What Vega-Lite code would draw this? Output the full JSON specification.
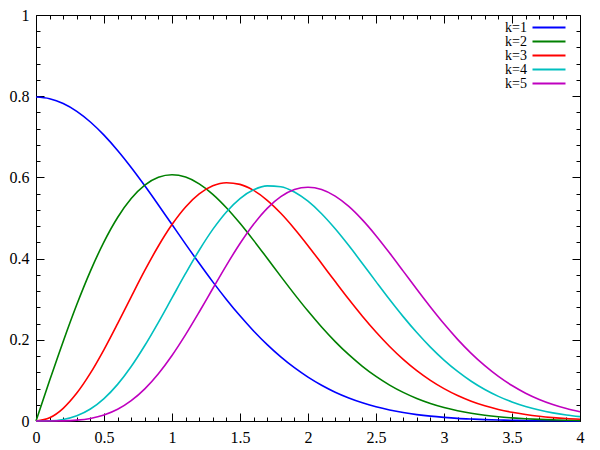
{
  "$schema": "https://vega.github.io/schema/vega-lite/v6.json",
  "width": 544,
  "height": 406,
  "autosize": {"type": "none"},
  "padding": {"left": 36, "top": 15, "right": 20, "bottom": 29},
  "background": "white",
  "config": {
    "view": {"stroke": "black", "strokeWidth": 1},
    "font": "Liberation Serif",
    "axis": {
      "labelFont": "Liberation Serif",
      "labelFontSize": 16,
      "labelColor": "black",
      "tickColor": "black",
      "tickWidth": 1,
      "domain": false,
      "grid": false,
      "title": null,
      "labelOverlap": false,
      "labelFlush": false
    }
  },
  "data": {
    "values": [
      {"x": 0.0, "k1": 0.7979, "k2": 0.0, "k3": 0.0, "k4": 0.0, "k5": 0.0},
      {"x": 0.1, "k1": 0.7939, "k2": 0.0995, "k3": 0.0079, "k4": 0.0005, "k5": 0.0000},
      {"x": 0.2, "k1": 0.7821, "k2": 0.1960, "k3": 0.0313, "k4": 0.0039, "k5": 0.0004},
      {"x": 0.3, "k1": 0.7628, "k2": 0.2868, "k3": 0.0687, "k4": 0.0129, "k5": 0.0021},
      {"x": 0.4, "k1": 0.7365, "k2": 0.3692, "k3": 0.1178, "k4": 0.0295, "k5": 0.0063},
      {"x": 0.5, "k1": 0.7041, "k2": 0.4412, "k3": 0.1760, "k4": 0.0552, "k5": 0.0147},
      {"x": 0.6, "k1": 0.6664, "k2": 0.5012, "k3": 0.2399, "k4": 0.0902, "k5": 0.0288},
      {"x": 0.7, "k1": 0.6245, "k2": 0.5479, "k3": 0.3060, "k4": 0.1342, "k5": 0.0500},
      {"x": 0.8, "k1": 0.5794, "k2": 0.5809, "k3": 0.3708, "k4": 0.1859, "k5": 0.0791},
      {"x": 0.9, "k1": 0.5322, "k2": 0.6003, "k3": 0.4311, "k4": 0.2431, "k5": 0.1164},
      {"x": 1.0, "k1": 0.4839, "k2": 0.6065, "k3": 0.4839, "k4": 0.3033, "k5": 0.1613},
      {"x": 1.1, "k1": 0.4357, "k2": 0.6007, "k3": 0.5272, "k4": 0.3634, "k5": 0.2126},
      {"x": 1.2, "k1": 0.3884, "k2": 0.5841, "k3": 0.5593, "k4": 0.4206, "k5": 0.2684},
      {"x": 1.3, "k1": 0.3427, "k2": 0.5584, "k3": 0.5792, "k4": 0.4719, "k5": 0.3263},
      {"x": 1.4, "k1": 0.2995, "k2": 0.5254, "k3": 0.5869, "k4": 0.5149, "k5": 0.3835},
      {"x": 1.5, "k1": 0.2590, "k2": 0.4870, "k3": 0.5828, "k4": 0.5479, "k5": 0.4371},
      {"x": 1.6, "k1": 0.2218, "k2": 0.4449, "k3": 0.5679, "k4": 0.5694, "k5": 0.4846},
      {"x": 1.7, "k1": 0.1881, "k2": 0.4008, "k3": 0.5436, "k4": 0.5791, "k5": 0.5237},
      {"x": 1.8, "k1": 0.1579, "k2": 0.3562, "k3": 0.5116, "k4": 0.5771, "k5": 0.5525},
      {"x": 1.9, "k1": 0.1312, "k2": 0.3125, "k3": 0.4737, "k4": 0.5641, "k5": 0.5701},
      {"x": 2.0, "k1": 0.1080, "k2": 0.2707, "k3": 0.4319, "k4": 0.5413, "k5": 0.5759},
      {"x": 2.1, "k1": 0.0880, "k2": 0.2315, "k3": 0.3879, "k4": 0.5105, "k5": 0.5703},
      {"x": 2.2, "k1": 0.0709, "k2": 0.1956, "k3": 0.3434, "k4": 0.4734, "k5": 0.5540},
      {"x": 2.3, "k1": 0.0567, "k2": 0.1633, "k3": 0.2997, "k4": 0.4320, "k5": 0.5285},
      {"x": 2.4, "k1": 0.0448, "k2": 0.1347, "k3": 0.2580, "k4": 0.3880, "k5": 0.4953},
      {"x": 2.5, "k1": 0.0351, "k2": 0.1098, "k3": 0.2191, "k4": 0.3433, "k5": 0.4565},
      {"x": 2.6, "k1": 0.0272, "k2": 0.0885, "k3": 0.1836, "k4": 0.2992, "k5": 0.4138},
      {"x": 2.7, "k1": 0.0208, "k2": 0.0705, "k3": 0.1519, "k4": 0.2571, "k5": 0.3692},
      {"x": 2.8, "k1": 0.0158, "k2": 0.0556, "k3": 0.1241, "k4": 0.2178, "k5": 0.3243},
      {"x": 2.9, "k1": 0.0119, "k2": 0.0433, "k3": 0.1001, "k4": 0.1820, "k5": 0.2807},
      {"x": 3.0, "k1": 0.0089, "k2": 0.0333, "k3": 0.0798, "k4": 0.1500, "k5": 0.2393},
      {"x": 3.1, "k1": 0.0065, "k2": 0.0254, "k3": 0.0628, "k4": 0.1220, "k5": 0.2011},
      {"x": 3.2, "k1": 0.0048, "k2": 0.0191, "k3": 0.0488, "k4": 0.0979, "k5": 0.1666},
      {"x": 3.3, "k1": 0.0034, "k2": 0.0142, "k3": 0.0375, "k4": 0.0776, "k5": 0.1362},
      {"x": 3.4, "k1": 0.0025, "k2": 0.0105, "k3": 0.0285, "k4": 0.0607, "k5": 0.1098},
      {"x": 3.5, "k1": 0.0017, "k2": 0.0077, "k3": 0.0214, "k4": 0.0469, "k5": 0.0873},
      {"x": 3.6, "k1": 0.0012, "k2": 0.0055, "k3": 0.0159, "k4": 0.0358, "k5": 0.0685},
      {"x": 3.7, "k1": 0.0008, "k2": 0.0039, "k3": 0.0116, "k4": 0.0270, "k5": 0.0531},
      {"x": 3.8, "k1": 0.0006, "k2": 0.0028, "k3": 0.0084, "k4": 0.0201, "k5": 0.0406},
      {"x": 3.9, "k1": 0.0004, "k2": 0.0019, "k3": 0.0060, "k4": 0.0148, "k5": 0.0306},
      {"x": 4.0, "k1": 0.0003, "k2": 0.0013, "k3": 0.0043, "k4": 0.0107, "k5": 0.0228}
    ]
  },
  "transform": [{"fold": ["k1", "k2", "k3", "k4", "k5"], "as": ["k", "p"]}],
  "layer": [
    {
      "mark": {"type": "line", "strokeWidth": 1.6, "interpolate": "monotone"},
      "encoding": {
        "x": {
          "field": "x",
          "type": "quantitative",
          "scale": {"domain": [0, 4], "nice": false},
          "axis": {
            "orient": "bottom",
            "values": [0, 0.1, 0.2, 0.3, 0.4, 0.5, 0.6, 0.7, 0.8, 0.9, 1, 1.1, 1.2, 1.3, 1.4, 1.5, 1.6, 1.7, 1.8, 1.9, 2, 2.1, 2.2, 2.3, 2.4, 2.5, 2.6, 2.7, 2.8, 2.9, 3, 3.1, 3.2, 3.3, 3.4, 3.5, 3.6, 3.7, 3.8, 3.9, 4],
            "labelExpr": "abs(datum.value * 2 - round(datum.value * 2)) < 0.001 ? format(datum.value, '~g') : ''",
            "tickSize": {"condition": {"test": "abs(datum.value * 2 - round(datum.value * 2)) < 0.001", "value": -8}, "value": -4},
            "labelPadding": 16
          }
        },
        "y": {
          "field": "p",
          "type": "quantitative",
          "scale": {"domain": [0, 1], "nice": false},
          "axis": {
            "orient": "left",
            "values": [0, 0.04, 0.08, 0.12, 0.16, 0.2, 0.24, 0.28, 0.32, 0.36, 0.4, 0.44, 0.48, 0.52, 0.56, 0.6, 0.64, 0.68, 0.72, 0.76, 0.8, 0.84, 0.88, 0.92, 0.96, 1],
            "labelExpr": "abs(datum.value * 5 - round(datum.value * 5)) < 0.001 ? format(datum.value, '~g') : ''",
            "tickSize": {"condition": {"test": "abs(datum.value * 5 - round(datum.value * 5)) < 0.001", "value": -8}, "value": -4},
            "labelPadding": 15
          }
        },
        "color": {
          "field": "k",
          "type": "nominal",
          "scale": {
            "domain": ["k1", "k2", "k3", "k4", "k5"],
            "range": ["#0000ff", "#008000", "#ff0000", "#00bfbf", "#bf00bf"]
          },
          "legend": {
            "orient": "none",
            "legendX": 462,
            "legendY": 5.5,
            "title": null,
            "padding": 0,
            "symbolType": "M-3,0H3",
            "symbolSize": 121,
            "symbolStrokeWidth": 2,
            "symbolOffset": 44,
            "labelOffset": -29,
            "labelAlign": "right",
            "labelFont": "Liberation Serif",
            "labelFontSize": 14,
            "labelColor": "black",
            "rowPadding": 0,
            "labelExpr": "'k=' + slice(datum.label, 1)"
          }
        }
      }
    },
    {
      "mark": {"type": "line", "opacity": 0},
      "encoding": {
        "x": {
          "field": "x",
          "type": "quantitative",
          "axis": {
            "orient": "top",
            "labels": false,
            "values": [0, 0.1, 0.2, 0.3, 0.4, 0.5, 0.6, 0.7, 0.8, 0.9, 1, 1.1, 1.2, 1.3, 1.4, 1.5, 1.6, 1.7, 1.8, 1.9, 2, 2.1, 2.2, 2.3, 2.4, 2.5, 2.6, 2.7, 2.8, 2.9, 3, 3.1, 3.2, 3.3, 3.4, 3.5, 3.6, 3.7, 3.8, 3.9, 4],
            "tickSize": {"condition": {"test": "abs(datum.value * 2 - round(datum.value * 2)) < 0.001", "value": -8}, "value": -4}
          }
        },
        "y": {
          "field": "p",
          "type": "quantitative",
          "axis": {
            "orient": "right",
            "labels": false,
            "values": [0, 0.04, 0.08, 0.12, 0.16, 0.2, 0.24, 0.28, 0.32, 0.36, 0.4, 0.44, 0.48, 0.52, 0.56, 0.6, 0.64, 0.68, 0.72, 0.76, 0.8, 0.84, 0.88, 0.92, 0.96, 1],
            "tickSize": {"condition": {"test": "abs(datum.value * 5 - round(datum.value * 5)) < 0.001", "value": -8}, "value": -4}
          }
        },
        "detail": {"field": "k", "type": "nominal"}
      }
    }
  ],
  "resolve": {"axis": {"x": "independent", "y": "independent"}}
}
